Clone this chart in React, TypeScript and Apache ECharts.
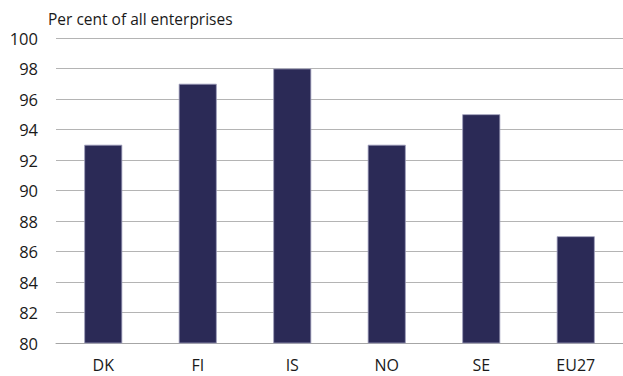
import React, { useEffect, useRef } from "react";
import * as echarts from "echarts";

const categories = ["DK", "FI", "IS", "NO", "SE", "EU27"];
const values = [93, 97, 98, 93, 95, 87];
const yTitle = "Per cent of all enterprises";
const yMin = 80;
const yMax = 100;
const yInterval = 2;

export default function App() {
  const ref = useRef<HTMLDivElement>(null);
  useEffect(() => {
    if (!ref.current) return;
    const chart = echarts.init(ref.current, null, { renderer: "svg" });
    const font = "'Open Sans', 'Noto Sans', sans-serif";
    chart.setOption({
      animation: false,
      backgroundColor: "#ffffff",
      graphic: [
        {
          type: "text",
          x: 48,
          y: 19,
          style: {
            text: yTitle,
            fontFamily: font,
            fontSize: 15.5,
            fill: "#1a1a1a",
            textAlign: "left",
            textVerticalAlign: "middle",
          },
        },
      ],
      grid: { left: 56, right: 0, top: 38, bottom: 33, containLabel: false },
      xAxis: {
        type: "category",
        data: categories,
        axisLine: { show: true, lineStyle: { color: "#a6a6a6", width: 1 } },
        axisTick: { show: false },
        axisLabel: { fontFamily: font, fontSize: 16, color: "#1a1a1a", margin: 14 },
      },
      yAxis: {
        type: "value",
        min: yMin,
        max: yMax,
        interval: yInterval,
        axisLine: { show: false },
        axisTick: { show: false },
        splitLine: { lineStyle: { color: "#b4b4b4", width: 1 } },
        axisLabel: { fontFamily: font, fontSize: 16.5, color: "#1a1a1a", margin: 18 },
      },
      series: [
        {
          type: "bar",
          data: values,
          barWidth: 38,
          itemStyle: { color: "#2b2a56", borderColor: "#9d9dba", borderWidth: 0.8 },
        },
      ],
    });
    return () => chart.dispose();
  }, []);
  return <div ref={ref} style={{ width: 623, height: 376, position: "absolute", left: 0, top: 0 }} />;
}
